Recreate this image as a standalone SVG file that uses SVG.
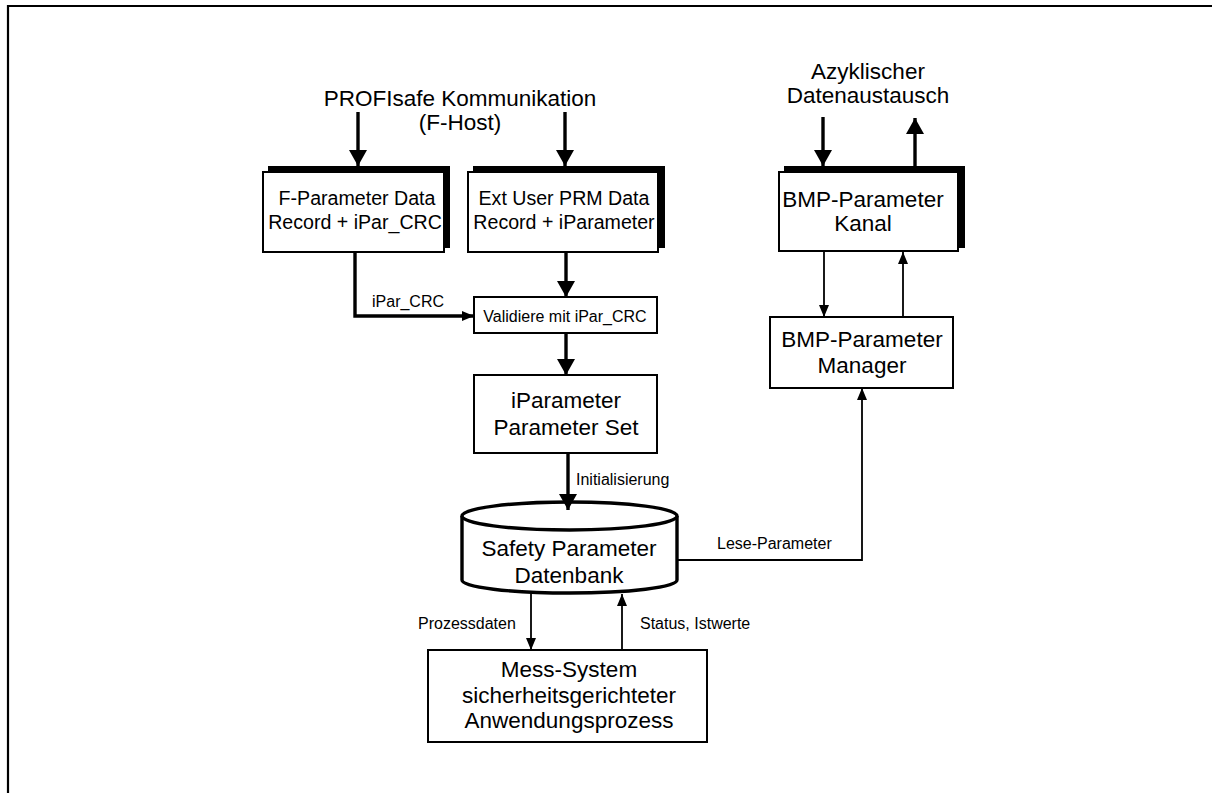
<svg xmlns="http://www.w3.org/2000/svg" width="1212" height="793" viewBox="0 0 1212 793">
  <style>
    text { font-family: "Liberation Sans", Arial, sans-serif; fill: #000; }
    .big { font-size: 22.5px; text-anchor: middle; }
    .rec { font-size: 19.6px; text-anchor: middle; }
    .mid { font-size: 16px; text-anchor: middle; }
    .lbl { font-size: 16px; }
    .box { fill: #fff; stroke: #000; stroke-width: 2; }
    .shadow { fill: #000; }
    .thin { fill: none; stroke: #000; stroke-width: 1.8; }
    .thick { fill: none; stroke: #000; stroke-width: 3.4; }
    .db { fill: #fff; stroke: #000; stroke-width: 3.4; }
  </style>
  <defs>
    <marker id="headBig" viewBox="0 0 16 18" refX="16" refY="9" markerWidth="16" markerHeight="18" markerUnits="userSpaceOnUse" orient="auto">
      <path d="M0,0 L16,9 L0,18 Z" fill="#000"/>
    </marker>
    <marker id="headSmall" viewBox="0 0 12 10" refX="12" refY="5" markerWidth="12" markerHeight="10" markerUnits="userSpaceOnUse" orient="auto">
      <path d="M0,0 L12,5 L0,10 Z" fill="#000"/>
    </marker>
  </defs>

  <rect width="1212" height="793" fill="#fff"/>
  <!-- outer frame -->
  <path d="M8,793 V6 H1212" fill="none" stroke="#000" stroke-width="2.2"/>

  <!-- free labels -->
  <g id="src-profisafe">
    <text class="big" x="460" y="106">PROFIsafe Kommunikation</text>
    <text class="big" x="460" y="130">(F-Host)</text>
  </g>
  <g id="src-azyklisch">
    <text class="big" x="868" y="79">Azyklischer</text>
    <text class="big" x="868" y="103">Datenaustausch</text>
  </g>

  <g id="fparam">
    <rect class="shadow" x="268" y="166" width="182" height="82"/>
    <rect class="box" x="263" y="172" width="181" height="80"/>
    <text class="rec" x="357" y="205">F-Parameter Data</text>
    <text class="rec" x="355" y="229">Record + iPar_CRC</text>
  </g>

  <g id="extuser">
    <rect class="shadow" x="473" y="166" width="192" height="82"/>
    <rect class="box" x="468" y="172" width="190" height="80"/>
    <text class="rec" x="564" y="205">Ext User PRM Data</text>
    <text class="rec" x="564" y="229">Record + iParameter</text>
  </g>

  <g id="kanal">
    <rect class="shadow" x="784" y="166" width="181" height="82"/>
    <rect class="box" x="779" y="172" width="179" height="79" stroke-width="2.6"/>
    <text class="big" x="863" y="207">BMP-Parameter</text>
    <text class="big" x="863" y="231">Kanal</text>
  </g>

  <g id="validiere">
    <rect class="box" x="474" y="297" width="183" height="36"/>
    <text class="mid" x="565" y="322">Validiere mit iPar_CRC</text>
  </g>

  <g id="iparameter">
    <rect class="box" x="474" y="375" width="183" height="78"/>
    <text class="big" x="566" y="408">iParameter</text>
    <text class="big" x="566" y="435">Parameter Set</text>
  </g>

  <g id="manager">
    <rect class="box" x="770" y="317" width="183" height="71"/>
    <text class="big" x="862" y="347">BMP-Parameter</text>
    <text class="big" x="862" y="373">Manager</text>
  </g>

  <g id="datenbank">
    <path class="db" d="M462,516 A107.5,14 0 0 1 677,516 V580 A107.5,13 0 0 1 462,580 Z"/>
    <path class="db" fill="none" d="M462,516 A107.5,14 0 0 0 677,516"/>
    <text class="big" x="569" y="556">Safety Parameter</text>
    <text class="big" x="569" y="583">Datenbank</text>
  </g>

  <g id="messsystem">
    <rect class="box" x="428" y="650" width="279" height="92"/>
    <text class="big" x="569" y="677">Mess-System</text>
    <text class="big" x="569" y="703">sicherheitsgerichteter</text>
    <text class="big" x="569" y="728">Anwendungsprozess</text>
  </g>

  <g id="connectors">
    <!-- inputs from the buses -->
    <line class="thick" x1="358" y1="112" x2="358" y2="166" marker-end="url(#headBig)"/>
    <line class="thick" x1="565" y1="112" x2="565" y2="166" marker-end="url(#headBig)"/>
    <line class="thick" x1="823" y1="117" x2="823" y2="166" marker-end="url(#headBig)"/>
    <line class="thick" x1="915" y1="166" x2="915" y2="118" marker-end="url(#headBig)"/>

    <!-- validation chain -->
    <line class="thick" x1="566" y1="252" x2="566" y2="297" marker-end="url(#headBig)"/>
    <polyline class="thick" points="355,252 355,316 474,316" stroke-width="2.4" marker-end="url(#headSmall)"/>
    <text class="lbl" x="372" y="307">iPar_CRC</text>
    <line class="thick" x1="568" y1="453" x2="568" y2="510" marker-end="url(#headBig)"/>
    <line class="thick" x1="566" y1="333" x2="566" y2="375" marker-end="url(#headBig)"/>
    <text class="lbl" x="576" y="485">Initialisierung</text>

    <!-- BMP channel to manager -->
    <line class="thin" x1="824" y1="252" x2="824" y2="317" marker-end="url(#headSmall)"/>
    <line class="thin" x1="903" y1="317" x2="903" y2="252" marker-end="url(#headSmall)"/>

    <!-- read parameters -->
    <polyline class="thin" points="677,560 862,560 862,388" stroke-width="2.2" marker-end="url(#headSmall)"/>
    <text class="lbl" x="717" y="549">Lese-Parameter</text>

    <!-- process data -->
    <line class="thin" x1="531" y1="592" x2="531" y2="650" marker-end="url(#headSmall)"/>
    <line class="thin" x1="622" y1="650" x2="622" y2="594" marker-end="url(#headSmall)"/>
    <text class="lbl" x="418" y="629">Prozessdaten</text>
    <text class="lbl" x="640" y="629">Status, Istwerte</text>
  </g>
</svg>
